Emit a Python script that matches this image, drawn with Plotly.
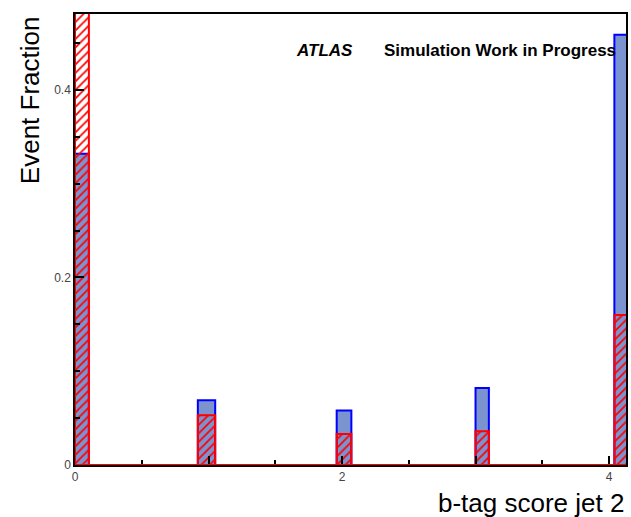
import plotly.graph_objects as go

# Bin edges (b-tag score) and event fractions
bin_lo = [0.0, 0.92, 1.96, 3.0, 4.04]
bin_hi = [0.104, 1.05, 2.07, 3.10, 4.15]
blue_frac = [0.332, 0.069, 0.058, 0.082, 0.459]
red_frac = [0.72, 0.053, 0.033, 0.036, 0.160]

x_tickvals = [0, 1, 2, 3, 4]
x_ticktext = ["0", "", "2", "", "4"]
y_tickvals = [0, 0.2, 0.4]
y_ticktext = ["0", "0.2", "0.4"]

centers = [(a + b) / 2 for a, b in zip(bin_lo, bin_hi)]
widths = [b - a for a, b in zip(bin_lo, bin_hi)]

fig = go.Figure()
fig.add_trace(go.Bar(
    x=centers, y=blue_frac, width=widths,
    marker=dict(color="#7b93cf", line=dict(color="#0000ff", width=2)),
    showlegend=False,
))
fig.add_trace(go.Bar(
    x=centers, y=red_frac, width=widths,
    marker=dict(color="rgba(0,0,0,0)", line=dict(color="#ff0000", width=2),
                pattern=dict(shape="/", fgcolor="#ff0000", bgcolor="rgba(0,0,0,0)",
                             size=6, solidity=0.3, fillmode="replace")),
    showlegend=False,
))

FONT = "Liberation Sans, Arial, sans-serif"

fig.update_layout(
    width=631, height=517,
    margin=dict(l=75, r=3, t=14, b=52),
    barmode="overlay",
    paper_bgcolor="white", plot_bgcolor="white",
    font=dict(family=FONT, color="#000"),
    xaxis=dict(
        range=[0, 4.127], showgrid=False, zeroline=False,
        showline=True, linecolor="black", linewidth=1.5, mirror=True,
        ticks="inside", ticklen=9, tickcolor="black", tickwidth=1.5,
        tickvals=x_tickvals, ticktext=x_ticktext,
        tickfont=dict(size=12, color="#444", family=FONT),
        minor=dict(dtick=0.5, ticks="inside", ticklen=5, tickcolor="black", tickwidth=1.5),
    ),
    yaxis=dict(
        range=[0, 0.481], showgrid=False, zeroline=False,
        showline=True, linecolor="black", linewidth=1.5, mirror=True,
        ticks="inside", ticklen=9, tickcolor="black", tickwidth=1.5,
        tickvals=y_tickvals, ticktext=y_ticktext,
        tickfont=dict(size=12, color="#444", family=FONT),
        minor=dict(dtick=0.05, ticks="inside", ticklen=5, tickcolor="black", tickwidth=1.5),
    ),
    shapes=[dict(type="line", xref="paper", x0=0, x1=1, yref="y", y0=0, y1=0,
                 line=dict(color="#ff0000", width=2), layer="above")],
    annotations=[
        dict(text="Event Fraction", textangle=-90, xref="paper", yref="paper",
             x=(30 - 75) / 553, y=1.0, xanchor="center", yanchor="top",
             showarrow=False, font=dict(size=26, family=FONT, color="black")),
        dict(text="b-tag score jet 2", xref="paper", yref="paper",
             x=1.0, y=(465 - 503) / 451, xanchor="right", yanchor="middle",
             showarrow=False, font=dict(size=26, family=FONT, color="black")),
        dict(text="<b><i>ATLAS</i></b>", xref="paper", yref="paper",
             x=(295 - 75) / 553, y=(465 - 50) / 451, xanchor="left", yanchor="middle",
             showarrow=False, font=dict(size=17, family=FONT, color="black")),
        dict(text="<b>Simulation Work in Progress</b>", xref="paper", yref="paper",
             x=(383 - 75) / 553, y=(465 - 50) / 451, xanchor="left", yanchor="middle",
             showarrow=False, font=dict(size=17, family=FONT, color="black")),
    ],
)

fig.write_html("out.html")
